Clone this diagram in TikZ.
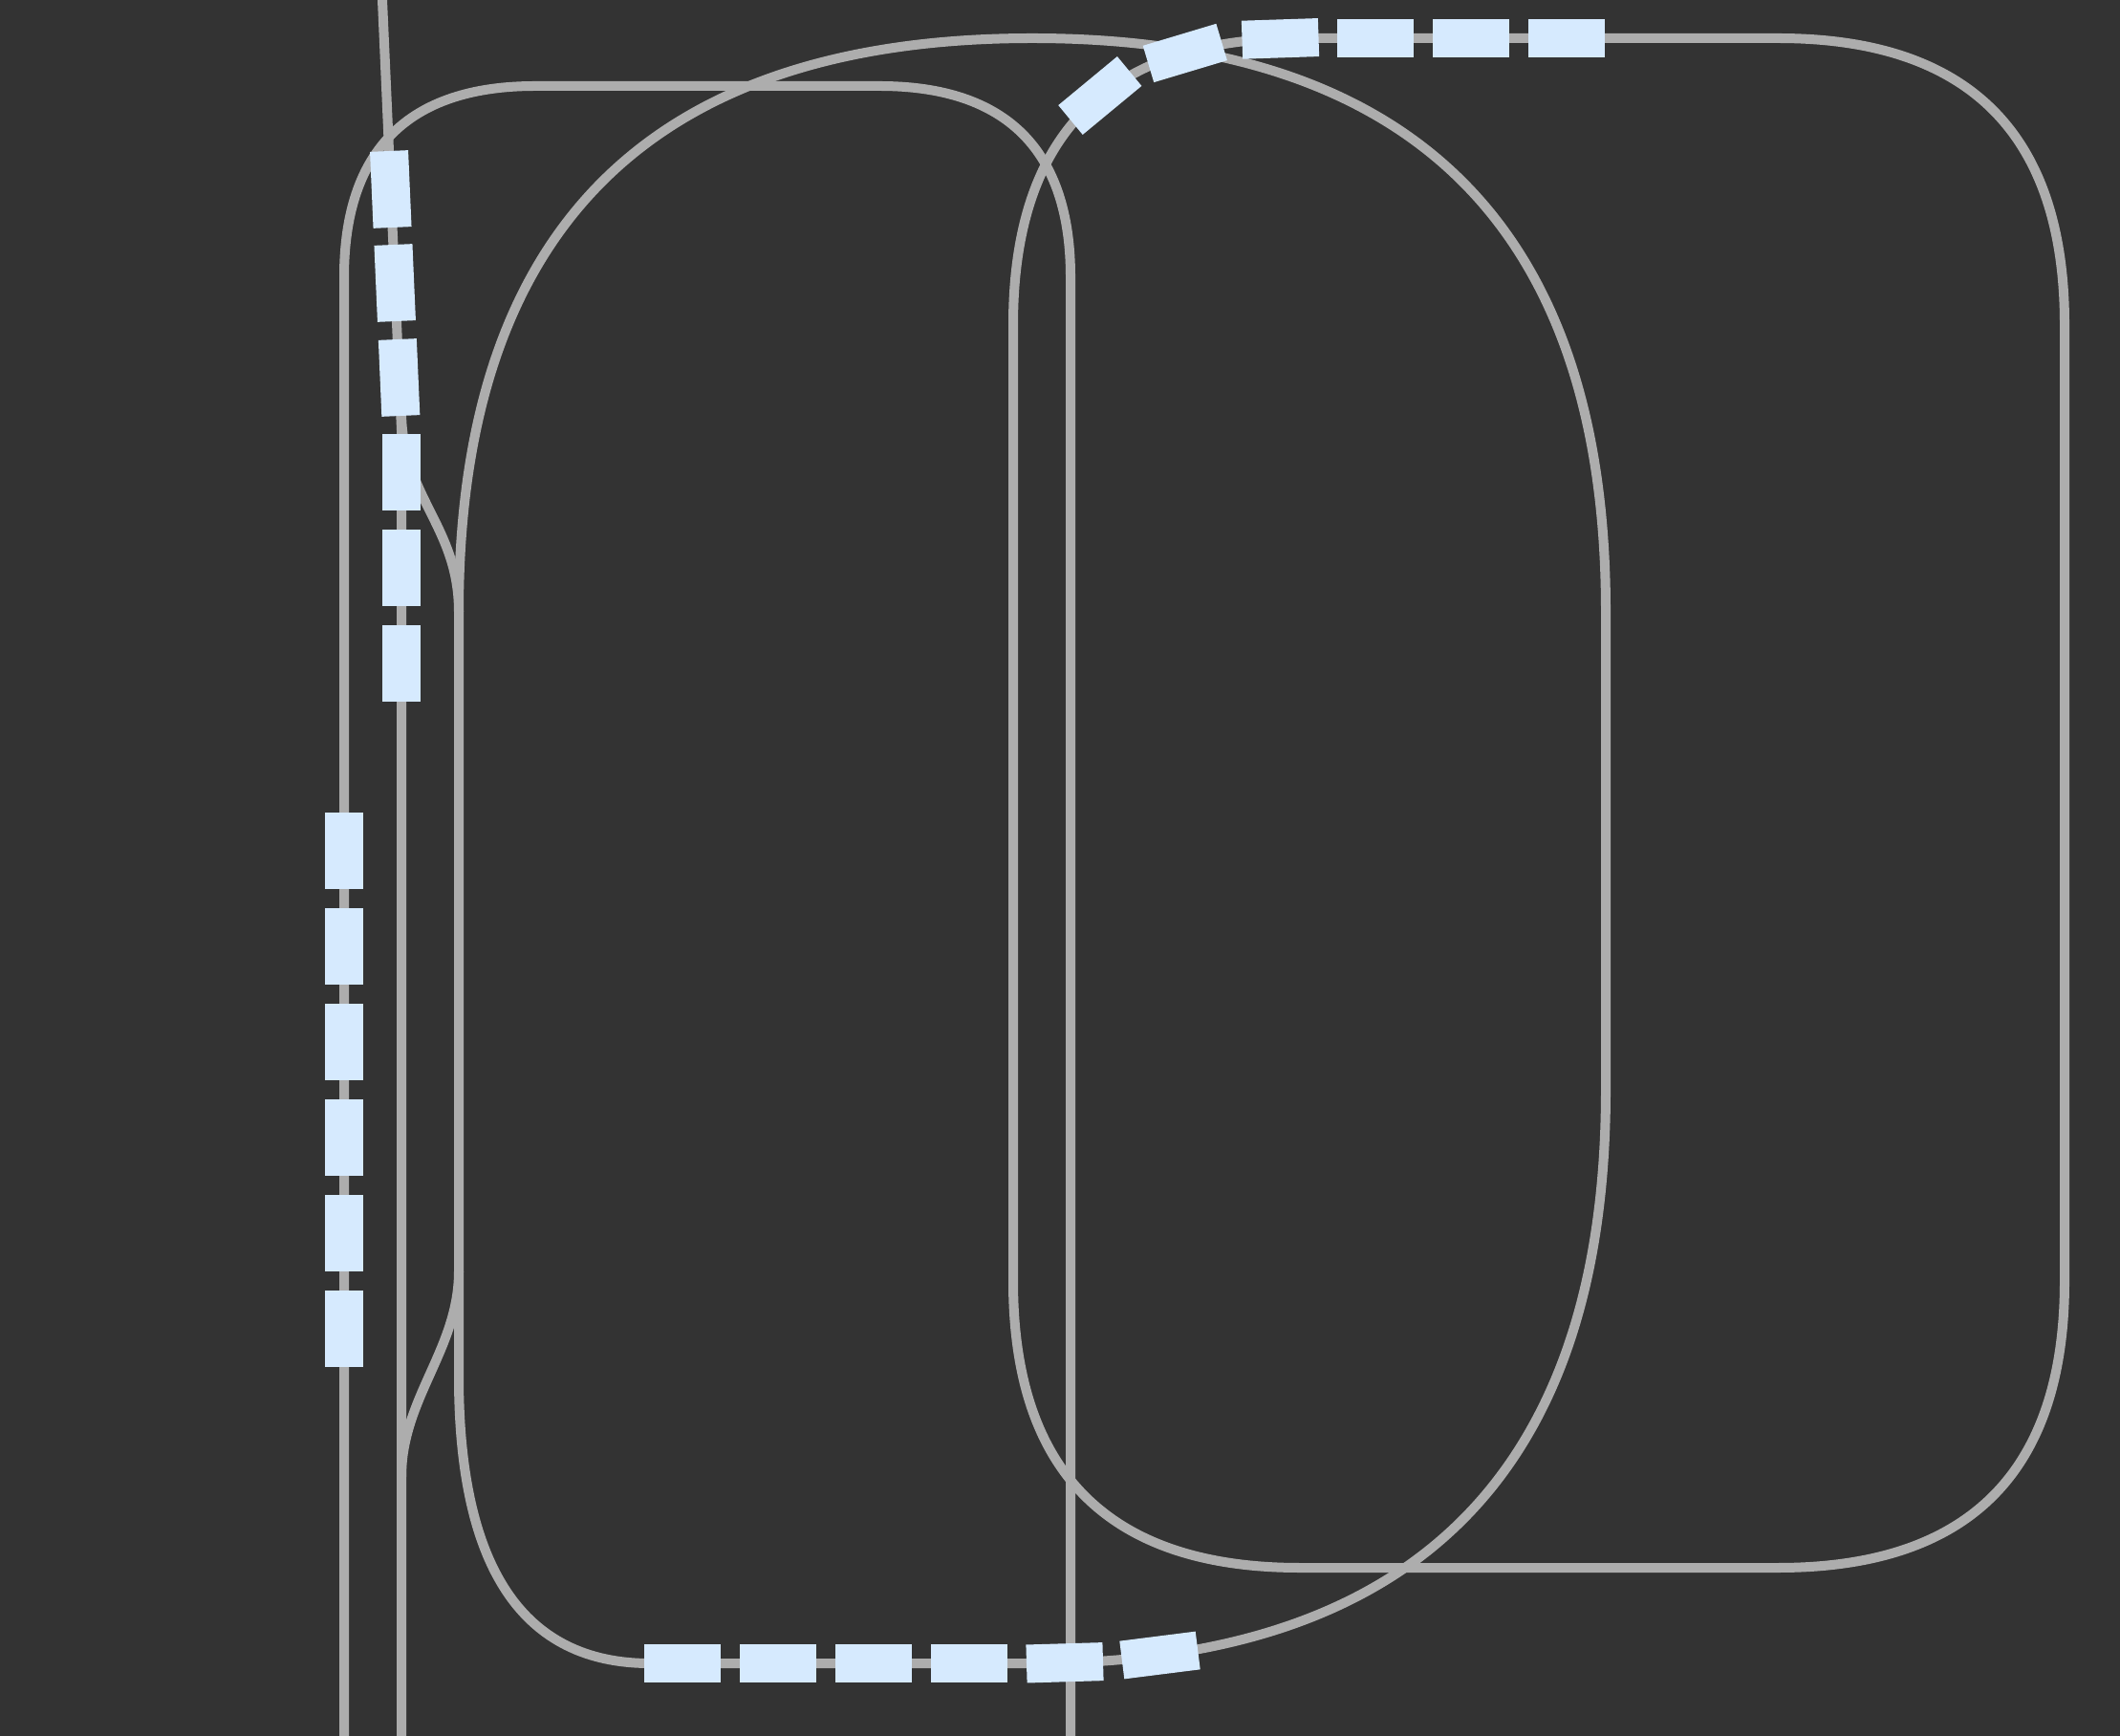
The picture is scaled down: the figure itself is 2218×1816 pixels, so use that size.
\documentclass[tikz,border=0pt]{standalone}
\definecolor{bgc}{HTML}{333333}
\definecolor{railc}{HTML}{ADADAD}
\definecolor{carc}{HTML}{D6EAFE}
\tikzset{
  rail/.style={draw=railc,line width=0.1cm,line cap=butt,line join=round},
  car/.style={rectangle,fill=carc,draw=none,inner sep=0pt,outer sep=0pt,minimum width=0.8cm,minimum height=0.4cm},
}
\begin{document}
\begin{tikzpicture}[x=0.01cm,y=-0.01cm]
\useasboundingbox (0,0) rectangle (2218,1816);
\fill[bgc] (0,0) rectangle (2218,1816);
% feeder line
\draw[rail] (400,0) -- (420,450) -- (420,1816);
% S-curves
\draw[rail] (420,430) .. controls (420,520) and (480,550) .. (480,640);
\draw[rail] (480,1330) .. controls (480,1411) and (420,1463) .. (420,1545);
% large loop
\draw[rail] (480,640) .. controls (480,240) and (680,40) .. (1080,40)
  .. controls (1480,40) and (1680,240) .. (1680,640) -- (1680,1140)
  .. controls (1680,1540) and (1480,1740) .. (1080,1740) -- (680,1740)
  .. controls (547,1740) and (480,1640) .. (480,1440) -- cycle;
% right loop
\draw[rail] (1060,340) .. controls (1060,140) and (1160,40) .. (1360,40) -- (1860,40)
  .. controls (2060,40) and (2160,140) .. (2160,340) -- (2160,1340)
  .. controls (2160,1540) and (2060,1640) .. (1860,1640) -- (1360,1640)
  .. controls (1160,1640) and (1060,1540) .. (1060,1340) -- cycle;
% arch
\draw[rail] (360,1816) -- (360,290) .. controls (360,157) and (427,90) .. (560,90) -- (920,90)
  .. controls (1053,90) and (1120,157) .. (1120,290) -- (1120,1816);
% cars, left column
\foreach \n/\y in {a1/890,a2/990,a3/1090,a4/1190,a5/1290,a6/1390}
  \node[car,rotate=90] (\n) at (360,\y) {};
% cars, second column
\node[car,rotate=-87.5] (b1) at (408.8,198) {};
\node[car,rotate=-87.5] (b2) at (413.2,296) {};
\node[car,rotate=-87.5] (b3) at (417.6,395) {};
\foreach \n/\y in {b4/494,b5/594,b6/694}
  \node[car,rotate=90] (\n) at (420,\y) {};
% cars, top
\node[car,rotate=39.6] (c1) at (1150.8,100) {};
\node[car,rotate=16.7] (c2) at (1239.8,55.5) {};
\node[car,rotate=1.9] (c3) at (1339.5,40.4) {};
\foreach \n/\x in {c4/1439,c5/1539,c6/1639}
  \node[car] (\n) at (\x,40) {};
% cars, bottom
\foreach \n/\x in {d1/714,d2/814,d3/914,d4/1014}
  \node[car] (\n) at (\x,1740) {};
\node[car,rotate=1.7] (d5) at (1114,1739.3) {};
\node[car,rotate=7.2] (d6) at (1213.5,1731.5) {};
\end{tikzpicture}
\end{document}
